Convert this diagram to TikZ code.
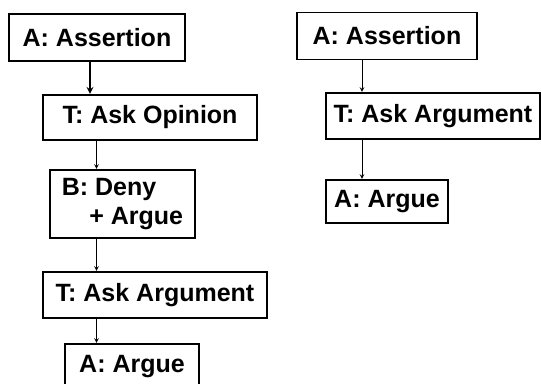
\documentclass[tikz,border=0pt]{standalone}
\usepackage{fontspec}
\setmainfont{Liberation Sans}
\usetikzlibrary{arrows, positioning, calc}

\begin{document}
\begin{tikzpicture}[x=1pt, y=-1pt,
		box/.style={draw, line width=1.4pt, inner sep=0pt, font=\fontsize{25}{29}\selectfont\bfseries},
		link/.style={-stealth, line width=1pt, shorten >=0.5pt}]
	\useasboundingbox (0,0) rectangle (541,383);
	% left column
	\node[box, minimum width=176, minimum height=47] (a) at (97,37.5) {A: Assertion};
	\node[box, minimum width=214, minimum height=45] (b) at (150,117.5) {T: Ask Opinion};
	\node[box, minimum width=145, minimum height=68, align=left] (c) at (122.5,204) {B: Deny\\\hspace{1.1em}+ Argue};
	\node[box, minimum width=224, minimum height=46] (d) at (155,295) {T: Ask Argument};
	\node[box, minimum width=134, minimum height=46] (e) at (132,367) {A: Argue};
	\draw[link, line width=2pt] ([xshift=-7]a.south) -- ([xshift=-7]a.south |- b.north);
	\draw[link] ([xshift=-26]c.north |- b.south) -- ([xshift=-26]c.north);
	\draw[link] ([xshift=-26]c.south) -- ([xshift=-26]c.south |- d.north);
	\draw[link] ([xshift=-26]c.south |- d.south) -- ([xshift=-26]c.south |- e.north);
	% right column
	\node[box, minimum width=180, minimum height=47] (f) at (387,36) {A: Assertion};
	\node[box, minimum width=214, minimum height=46] (g) at (433,116) {T: Ask Argument};
	\node[box, minimum width=122, minimum height=43] (h) at (387,201.5) {A: Argue};
	\draw[link] ([xshift=-25]f.south) -- ([xshift=-25]f.south |- g.north);
	\draw[link] ([xshift=-25]f.south |- g.south) -- ([xshift=-25]h.north);
\end{tikzpicture}
\end{document}
